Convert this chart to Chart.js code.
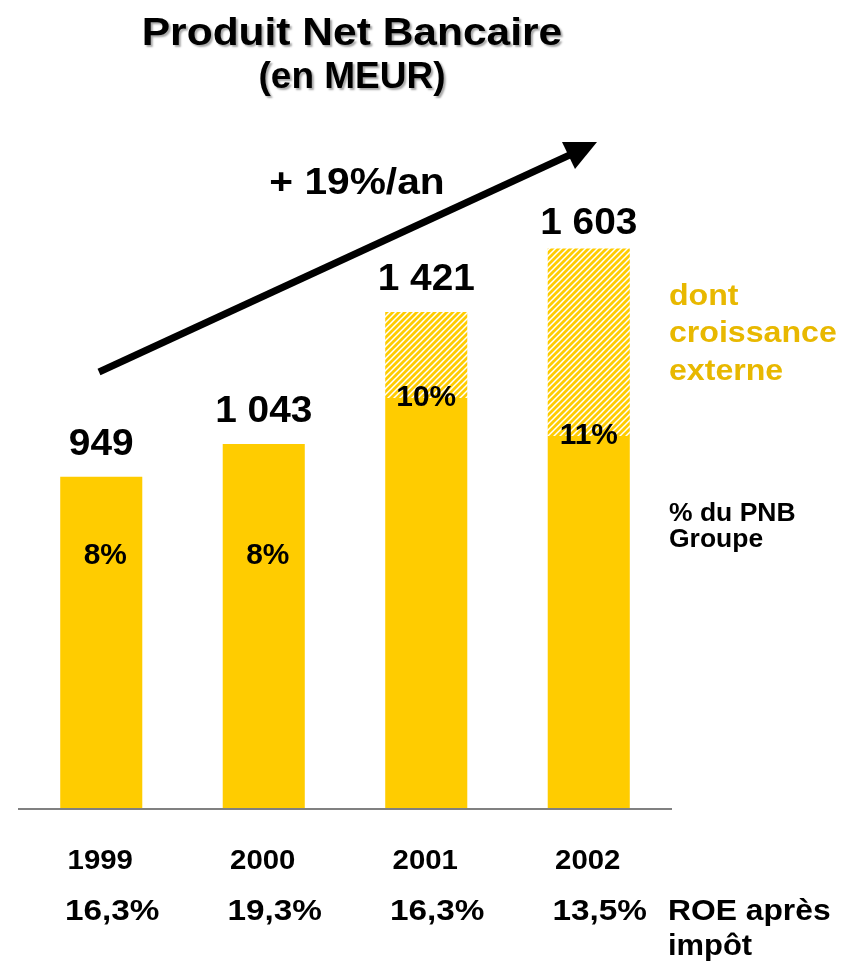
<!DOCTYPE html>
<html>
<head>
<meta charset="utf-8">
<script src="https://cdn.jsdelivr.net/npm/chart.js@4.4.1/dist/chart.umd.min.js"></script>
<style>
  html, body { margin: 0; padding: 0; background: #ffffff; }
  #wrap { width: 850px; height: 962px; position: relative; }
</style>
</head>
<body>
<div id="wrap"><canvas id="c" width="850" height="962"></canvas></div>
<script>
// ---- data ----
const years = ['1999', '2000', '2001', '2002'];
const organicValues = [949, 1043, 1175, 1066];   // solid part
const externalValues = [0, 0, 246, 537];         // hatched part (croissance externe)
const totalLabels = ['949', '1 043', '1 421', '1 603'];
const shareLabels = ['8%', '8%', '10%', '11%'];
const roeLabels = ['16,3%', '19,3%', '16,3%', '13,5%'];
const growthLabel = '+ 19%/an';

// ---- hatch pattern ----
function makeHatch() {
  const s = 6;
  const p = document.createElement('canvas');
  p.width = s; p.height = s;
  const g = p.getContext('2d');
  g.fillStyle = '#FFCC00';
  g.fillRect(0, 0, s, s);
  g.strokeStyle = '#ffffff';
  g.lineWidth = 1.5;
  g.beginPath();
  g.moveTo(-1, s + 1); g.lineTo(s + 1, -1);
  g.moveTo(-1, 1); g.lineTo(1, -1);
  g.moveTo(s - 1, s + 1); g.lineTo(s + 1, s - 1);
  g.stroke();
  const ctx = document.getElementById('c').getContext('2d');
  return ctx.createPattern(p, 'repeat');
}

const FONT = '"Liberation Sans", Arial, Helvetica, sans-serif';

// draw text stretched horizontally by sx around its anchor
function txt(ctx, s, x, y, sx) {
  ctx.save();
  ctx.translate(x, y);
  ctx.scale(sx || 1, 1);
  ctx.fillText(s, 0, 0);
  ctx.restore();
}

const annotations = {
  id: 'annotations',
  afterDatasetsDraw(chart) {
    const ctx = chart.ctx;
    const xs = chart.scales.x;
    const ys = chart.scales.y;
    const area = chart.chartArea;
    ctx.save();

    // baseline axis
    ctx.strokeStyle = '#808080';
    ctx.lineWidth = 2;
    ctx.beginPath();
    ctx.moveTo(area.left - 2, ys.getPixelForValue(0) + 1);
    ctx.lineTo(area.right + 2, ys.getPixelForValue(0) + 1);
    ctx.stroke();

    ctx.fillStyle = '#000';
    ctx.textAlign = 'center';
    ctx.textBaseline = 'alphabetic';

    // totals above bars
    const totalOffsets = [22, 22, 22, 15];
    ctx.font = 'bold 37px ' + FONT;
    years.forEach((y, i) => {
      const total = organicValues[i] + externalValues[i];
      const px = xs.getPixelForValue(i);
      const py = ys.getPixelForValue(total) - totalOffsets[i];
      txt(ctx, totalLabels[i], px, py, 1.05);
    });

    // share labels
    ctx.font = 'bold 29px ' + FONT;
    ctx.textBaseline = 'middle';
    years.forEach((y, i) => {
      const px = xs.getPixelForValue(i) + (externalValues[i] > 0 ? 0 : 4);
      const py = externalValues[i] > 0 ? ys.getPixelForValue(organicValues[i]) : 556;
      txt(ctx, shareLabels[i], px, py, 1.03);
    });
    ctx.textBaseline = 'alphabetic';

    // years
    ctx.font = 'bold 28px ' + FONT;
    years.forEach((y, i) => {
      txt(ctx, y, xs.getPixelForValue(i) - 1, 869, 1.05);
    });
    // ROE
    ctx.font = 'bold 30px ' + FONT;
    years.forEach((y, i) => {
      txt(ctx, roeLabels[i], xs.getPixelForValue(i) + 11, 920, 1.11);
    });

    // right side texts
    ctx.textAlign = 'left';
    txt(ctx, 'ROE après', 668, 920, 1.06);
    txt(ctx, 'impôt', 668, 955, 1.03);

    ctx.fillStyle = '#E8B800';
    ctx.font = 'bold 30px ' + FONT;
    txt(ctx, 'dont', 669, 305, 1.07);
    txt(ctx, 'croissance', 669, 342, 1.07);
    txt(ctx, 'externe', 669, 380, 1.07);

    ctx.fillStyle = '#000';
    ctx.font = 'bold 25px ' + FONT;
    txt(ctx, '% du PNB', 669, 521, 1.06);
    txt(ctx, 'Groupe', 669, 547, 1.06);

    // growth arrow
    ctx.strokeStyle = '#000';
    ctx.lineWidth = 7;
    ctx.lineCap = 'butt';
    ctx.beginPath();
    ctx.moveTo(99, 372);
    ctx.lineTo(574, 153);
    ctx.stroke();
    ctx.fillStyle = '#000';
    ctx.beginPath();
    ctx.moveTo(597, 142);
    ctx.lineTo(562, 142);
    ctx.lineTo(575, 169);
    ctx.closePath();
    ctx.fill();

    ctx.font = 'bold 37px ' + FONT;
    ctx.textAlign = 'center';
    txt(ctx, growthLabel, 357, 194, 1.1);

    // title with shadow
    ctx.shadowColor = 'rgba(0,0,0,0.35)';
    ctx.shadowOffsetX = 2;
    ctx.shadowOffsetY = 2;
    ctx.shadowBlur = 2;
    ctx.font = 'bold 39px ' + FONT;
    txt(ctx, 'Produit Net Bancaire', 352, 45, 1.09);
    ctx.font = 'bold 37px ' + FONT;
    txt(ctx, '(en MEUR)', 352, 88, 1.0);

    ctx.restore();
  }
};

new Chart(document.getElementById('c'), {
  type: 'bar',
  data: {
    labels: years,
    datasets: [
      { label: 'PNB', data: organicValues, backgroundColor: '#FFCC00', borderWidth: 0 },
      { label: 'croissance externe', data: externalValues, backgroundColor: makeHatch(), borderWidth: 0 }
    ]
  },
  options: {
    responsive: false,
    animation: false,
    devicePixelRatio: 1,
    layout: { padding: { left: 20, right: 180, top: 110, bottom: 154 } },
    datasets: { bar: { categoryPercentage: 1, barPercentage: 0.505 } },
    scales: {
      x: { stacked: true, display: false },
      y: { stacked: true, display: false, min: 0, max: 2000 }
    },
    plugins: { legend: { display: false }, tooltip: { enabled: false } }
  },
  plugins: [annotations]
});
</script>
</body>
</html>
